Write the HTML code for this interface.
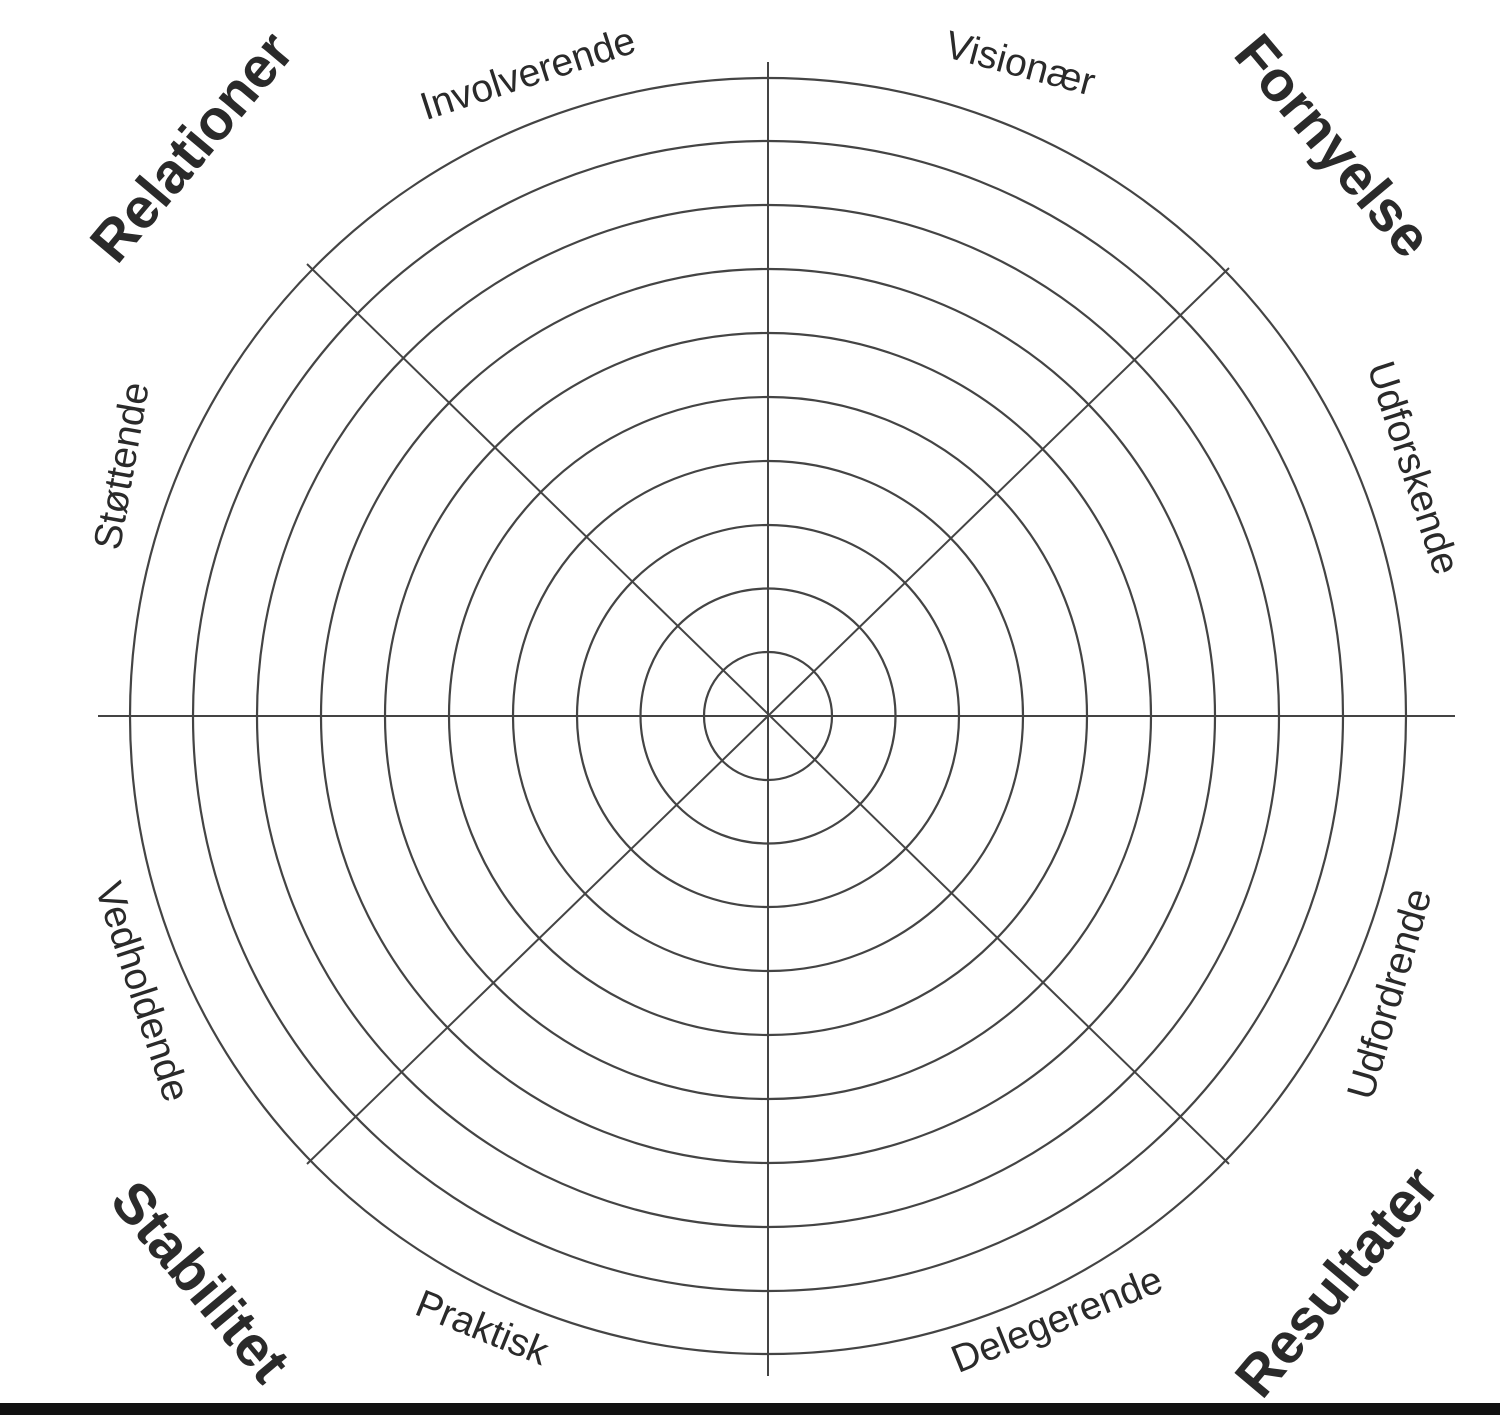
<!DOCTYPE html>
<html><head><style>
html,body{margin:0;padding:0;background:#fff;}
svg{display:block;}
text{font-family:"Liberation Sans",sans-serif;fill:#2a2a2a;}
.s{font-size:39px;}
.b{font-size:57px;font-weight:bold;}
</style></head><body>
<svg width="1500" height="1415" viewBox="0 0 1500 1415" xmlns="http://www.w3.org/2000/svg">
<rect width="1500" height="1415" fill="#fff"/>
<g fill="none" stroke="#444" stroke-width="2.2">
<circle cx="768" cy="716" r="64"/>
<circle cx="768" cy="716" r="127.5"/>
<circle cx="768" cy="716" r="191"/>
<circle cx="768" cy="716" r="255"/>
<circle cx="768" cy="716" r="319"/>
<circle cx="768" cy="716" r="383"/>
<circle cx="768" cy="716" r="447"/>
<circle cx="768" cy="716" r="511"/>
<circle cx="768" cy="716" r="575"/>
<circle cx="768" cy="716" r="638"/>
</g>
<g stroke="#444" stroke-width="2">
<line x1="98" y1="716" x2="1455" y2="716"/>
<line x1="768" y1="62" x2="768" y2="1376"/>
<line x1="307" y1="264" x2="1229" y2="1164"/>
<line x1="1229" y1="268" x2="307" y2="1164"/>
</g>
<rect x="0" y="1403" width="1500" height="12" fill="#111"/>
<g text-anchor="middle" dominant-baseline="central">
<text class="b" transform="translate(192,147) rotate(-50)">Relationer</text>
<text class="b" transform="translate(1333,146) rotate(50)">Fornyelse</text>
<text class="b" transform="translate(200,1282) rotate(50)">Stabilitet</text>
<text class="b" transform="translate(1337,1282) rotate(-50)">Resultater</text>
<text class="s" transform="translate(528,74) rotate(-18)">Involverende</text>
<text class="s" transform="translate(1020,64) rotate(15)">Visionær</text>
<text class="s" transform="translate(1413,468) rotate(72)">Udforskende</text>
<text class="s" transform="translate(122,466) rotate(-80)">Støttende</text>
<text class="s" transform="translate(142,992) rotate(72)">Vedholdende</text>
<text class="s" transform="translate(1390,994) rotate(-74)">Udfordrende</text>
<text class="s" transform="translate(482,1328) rotate(22)">Praktisk</text>
<text class="s" transform="translate(1057,1320) rotate(-22)">Delegerende</text>
</g>
</svg>
</body></html>
